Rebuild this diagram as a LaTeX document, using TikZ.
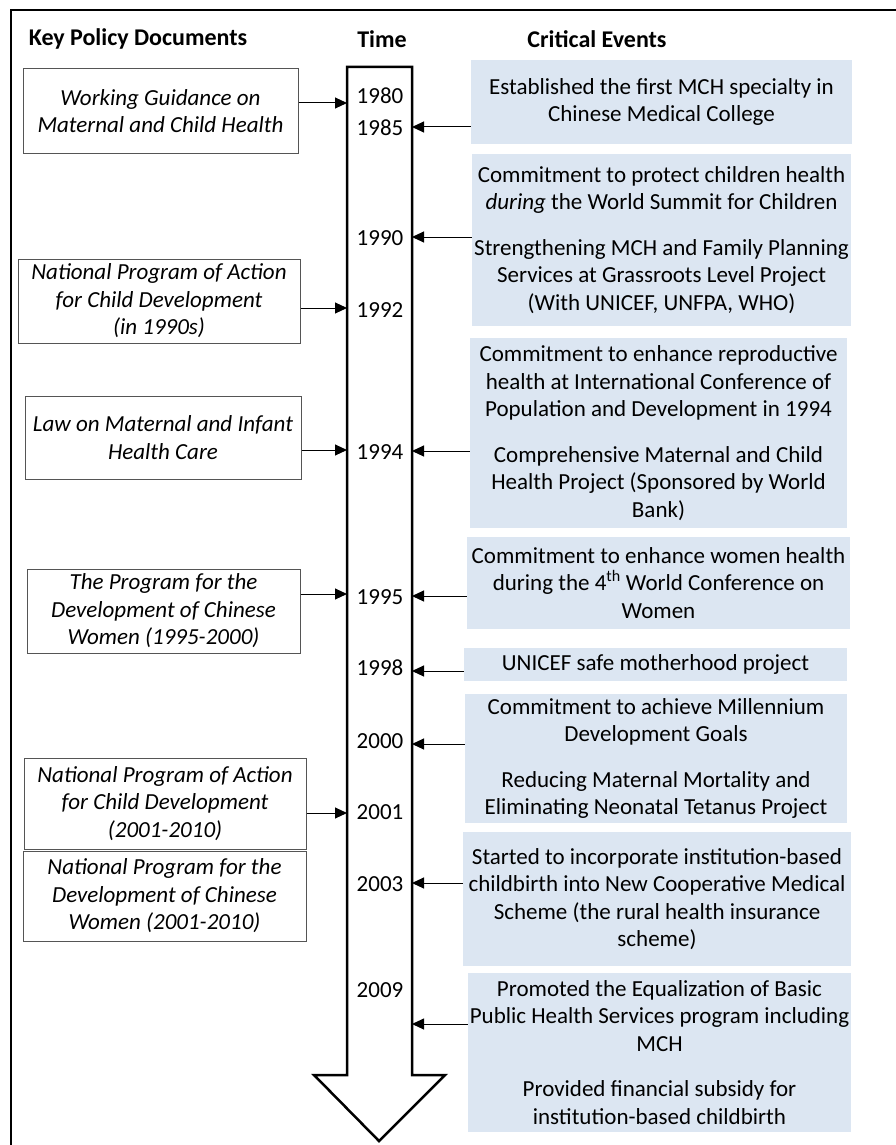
\documentclass[tikz,border=0pt]{standalone}
\usepackage{fontspec}
\setmainfont{Carlito}
\usetikzlibrary{arrows.meta}
\definecolor{evfill}{RGB}{220,230,242}
\definecolor{docline}{RGB}{85,85,85}
\begin{document}
\begin{tikzpicture}[x=1pt,y=-1pt,
  every node/.style={font=\fontsize{23}{27.5}\selectfont, inner sep=0pt, align=center},
  hdr/.style={font=\fontsize{24}{28}\selectfont\bfseries},
  docbox/.style={draw=docline, line width=1pt, font=\fontsize{23}{27.5}\selectfont\itshape},
  evbox/.style={fill=evfill},
  yr/.style={},
  conn/.style={line width=1pt, -{Triangle[length=12pt,width=11pt]}},
  shaft/.style={line width=2.5pt, line join=miter}
]
\useasboundingbox (0,0) rectangle (896,1145);
\clip (0,0) rectangle (896,1145);
% frame
\draw[line width=2pt] (11,1160) -- (11,10) -- (910,10);
% headers
\node[hdr] (h1) at (138,39) {Key Policy Documents};
\node[hdr] (h2) at (382,39) {Time};
\node[hdr] (h3) at (597,39) {Critical Events};
% timeline arrow
\coordinate (sTL) at (347,67);
\coordinate (sTR) at (412,67);
\coordinate (sBR) at (412,1075);
\coordinate (hR) at (445,1075);
\coordinate (tip) at (379,1141);
\coordinate (hL) at (314,1075);
\coordinate (sBL) at (347,1075);
\draw[shaft] (sTL) -- (sTR) -- (sBR) -- (hR) -- (tip) -- (hL) -- (sBL) -- cycle;
% years
\node[yr] (y1980) at (380,96) {1980};
\node[yr] (y1985) at (380,128) {1985};
\node[yr] (y1990) at (380,238) {1990};
\node[yr] (y1992) at (380,310) {1992};
\node[yr] (y1994) at (380,452) {1994};
\node[yr] (y1995) at (380,597) {1995};
\node[yr] (y1998) at (380,668) {1998};
\node[yr] (y2000) at (380,741) {2000};
\node[yr] (y2001) at (380,812) {2001};
\node[yr] (y2003) at (380,884) {2003};
\node[yr] (y2009) at (380,990) {2009};
% policy documents
\node[docbox, minimum width=275pt, minimum height=84pt] (d1) at (160.5,111) {Working Guidance on\\Maternal and Child Health};
\node[docbox, minimum width=282pt, minimum height=84pt] (d2) at (159,301) {National Program of Action\\for Child Development\\(in 1990s)};
\node[docbox, minimum width=276pt, minimum height=83pt] (d3) at (163,437.5) {Law on Maternal and Infant\\Health Care};
\node[docbox, minimum width=273pt, minimum height=84pt] (d4) at (163.5,611) {The Program for the\\Development of Chinese\\Women (1995-2000)};
\node[docbox, minimum width=282pt, minimum height=91pt] (d5) at (165,803.5) {National Program of Action\\for Child Development\\(2001-2010)};
\node[docbox, minimum width=283pt, minimum height=90pt] (d6) at (164.5,896) {National Program for the\\Development of Chinese\\Women (2001-2010)};
% events
\node[evbox, minimum width=381pt, minimum height=84pt] (e1) at (661.5,102) {Established the first MCH specialty in\\Chinese Medical College};
\node[evbox, minimum width=379pt, minimum height=172pt] (e2) at (661.5,240) {Commitment to protect children health\\\textit{during} the World Summit for Children\\[18pt]Strengthening MCH and Family Planning\\Services at Grassroots Level Project\\(With UNICEF, UNFPA, WHO)};
\node[evbox, minimum width=377pt, minimum height=190pt] (e3) at (658.5,433) {Commitment to enhance reproductive\\health at International Conference of\\Population and Development in 1994\\[18pt]Comprehensive Maternal and Child\\Health Project (Sponsored by World\\Bank)};
\node[evbox, minimum width=383pt, minimum height=92pt] (e4) at (658.5,583) {Commitment to enhance women health\\during the 4\textsuperscript{th} World Conference on\\Women};
\node[evbox, minimum width=383pt, minimum height=33pt] (e5) at (655.5,664.5) {UNICEF safe motherhood project};
\node[evbox, minimum width=382pt, minimum height=129pt] (e6) at (656,758.5) {Commitment to achieve Millennium\\Development Goals\\[18pt]Reducing Maternal Mortality and\\Eliminating Neonatal Tetanus Project};
\node[evbox, minimum width=388pt, minimum height=134pt] (e7) at (657,899) {Started to incorporate institution-based\\childbirth into New Cooperative Medical\\Scheme (the rural health insurance\\scheme)};
\node[evbox, minimum width=383pt, minimum height=159pt] (e8) at (659.5,1052.5) {Promoted the Equalization of Basic\\Public Health Services program including\\MCH\\[18pt]Provided financial subsidy for\\institution-based childbirth};
% connector end points on the shaft
\coordinate (L1980) at (347,103);
\coordinate (L1992) at (347,308);
\coordinate (L1994) at (347,450);
\coordinate (L1995) at (347,594);
\coordinate (L2001) at (347,813);
\coordinate (R1985) at (412,127);
\coordinate (R1990) at (412,237);
\coordinate (R1994) at (412,451);
\coordinate (R1995) at (412,596);
\coordinate (R1998) at (412,671);
\coordinate (R2000) at (412,744);
\coordinate (R2003) at (412,883);
\coordinate (R2009) at (412,1024);
% connectors from documents
\draw[conn] (d1.east |- L1980) -- (L1980);
\draw[conn] (d2.east |- L1992) -- (L1992);
\draw[conn] (d3.east |- L1994) -- (L1994);
\draw[conn] (d4.east |- L1995) -- (L1995);
\draw[conn] (d5.east |- L2001) -- (L2001);
% connectors from events
\draw[conn] (e1.west |- R1985) -- (R1985);
\draw[conn] (e2.west |- R1990) -- (R1990);
\draw[conn] (e3.west |- R1994) -- (R1994);
\draw[conn] (e4.west |- R1995) -- (R1995);
\draw[conn] (e5.west |- R1998) -- (R1998);
\draw[conn] (e6.west |- R2000) -- (R2000);
\draw[conn] (e7.west |- R2003) -- (R2003);
\draw[conn] (e8.west |- R2009) -- (R2009);
\end{tikzpicture}
\end{document}
